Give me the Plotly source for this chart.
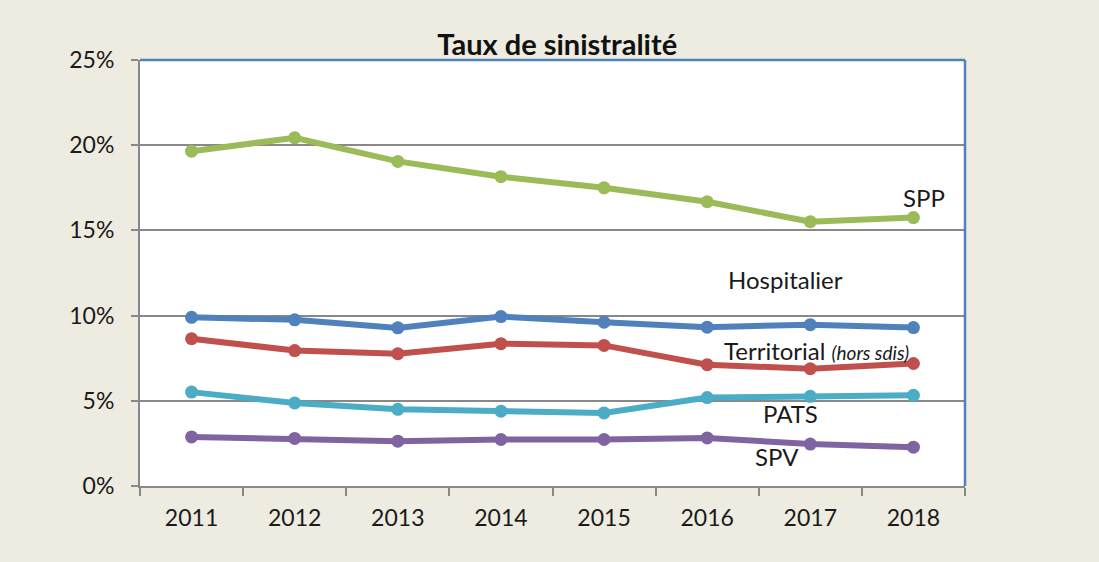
import plotly.graph_objects as go

years = ["2011", "2012", "2013", "2014", "2015", "2016", "2017", "2018"]
spp = [19.65, 20.43, 19.05, 18.15, 17.5, 16.68, 15.51, 15.75]
hospitalier = [9.9, 9.75, 9.28, 9.94, 9.61, 9.32, 9.47, 9.3]
territorial = [8.64, 7.95, 7.76, 8.35, 8.25, 7.12, 6.88, 7.19]
pats = [5.51, 4.87, 4.5, 4.39, 4.29, 5.19, 5.26, 5.32]
spv = [2.88, 2.79, 2.63, 2.73, 2.73, 2.82, 2.46, 2.28]
y_ticks = [0, 5, 10, 15, 20, 25]
y_tick_text = ["0%", "5%", "10%", "15%", "20%", "25%"]

series = [
    ("SPP", spp, "#9BBB59"),
    ("Hospitalier", hospitalier, "#4F81BD"),
    ("Territorial", territorial, "#C0504D"),
    ("PATS", pats, "#4BACC6"),
    ("SPV", spv, "#8064A2"),
]

FONT = "Lato, 'Open Sans', sans-serif"
fig = go.Figure()
for name, vals, col in series:
    fig.add_trace(go.Scatter(
        x=years, y=vals, name=name, mode="lines+markers",
        line=dict(color=col, width=6),
        marker=dict(color=col, size=13),
        showlegend=False, cliponaxis=False,
    ))

fig.update_layout(
    width=1099, height=562,
    paper_bgcolor="#EEEBE0", plot_bgcolor="#FFFFFF",
    margin=dict(l=140, r=134, t=60, b=76),
    font=dict(family=FONT, size=23, color="#1a1a1a"),
    title=dict(text="<b>Taux de sinistralité</b>", x=0.507, xanchor="center",
               y=1 - 45 / 562, yanchor="middle",
               font=dict(family=FONT, size=29, color="#111")),
)
fig.update_xaxes(
    type="category", tickson="boundaries", ticks="outside", ticklen=8,
    tickwidth=2, tickcolor="#888888", showline=True, linecolor="#888888",
    linewidth=2, showgrid=False, tickfont=dict(size=23, family=FONT),
    ticklabelstandoff=10, range=[-0.5, 7.5],
)
fig.update_yaxes(
    range=[0, 25], tickvals=y_ticks, ticktext=y_tick_text,
    ticks="outside", ticklen=7, tickwidth=2, tickcolor="#888888",
    showline=True, linecolor="#888888", linewidth=2,
    showgrid=True, gridcolor="#888888", gridwidth=2,
    zeroline=False, tickfont=dict(size=23, family=FONT),
    ticklabelstandoff=12,
)
# blue top and right border
fig.add_shape(type="line", xref="paper", yref="paper", x0=0, x1=1, y0=1, y1=1,
              line=dict(color="#4F81BD", width=2.5))
fig.add_shape(type="line", xref="paper", yref="paper", x0=1, x1=1, y0=0, y1=1,
              line=dict(color="#4F81BD", width=2.5))

labels = [
    ("SPP", 0.950, 0.678),
    ("Hospitalier", 0.782, 0.4836),
    ("Territorial <i><span style='font-size:19px'>(hors sdis)</span></i>", 0.8206, 0.319),
    ("PATS", 0.789, 0.171),
    ("SPV", 0.772, 0.070),
]
for txt, xp, yp in labels:
    fig.add_annotation(text=txt, x=xp, y=yp, xref="paper", yref="paper",
                       showarrow=False, xanchor="center", yanchor="middle",
                       font=dict(family=FONT, size=24, color="#1a1a1a"))

fig.write_html(
    "out.html",
    config={"displayModeBar": False},
    post_script="document.body.style.margin='0';document.body.style.background='#EEEBE0';",
)
